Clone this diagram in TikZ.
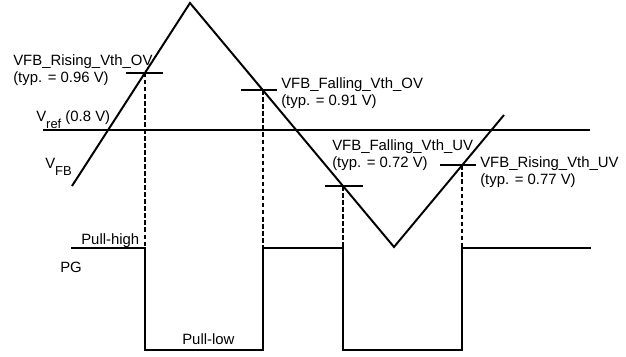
\documentclass[tikz,border=0pt]{standalone}
\usepackage{fontspec}
\setmainfont{Liberation Sans}
\usetikzlibrary{calc}
\newcommand{\lowidx}[1]{\raisebox{-5pt}{\fontsize{9.2}{10}\selectfont #1}}
\tikzset{
	wave/.style={line width=1.4pt},
	guide/.style={line width=1.1pt, dash pattern=on 3.3pt off 1.7pt},
	note/.style={inner sep=0pt, align=left, anchor=north west, font=\fontsize{10.6}{12.5}\selectfont},
}

\begin{document}
\begin{tikzpicture}[x=0.025cm, y=-0.025cm]
		\useasboundingbox (0,0) rectangle (626,356);
		% VFB waveform
		\coordinate (fbstart) at (72,186);
		\coordinate (fbpeak) at (190,3);
		\coordinate (fbvalley) at (394,247);
		\coordinate (fbend) at (504,115);
		\draw[wave] (fbstart) -- (fbpeak) -- (fbvalley) -- (fbend);
		% reference level
		\coordinate (refleft) at (43,130);
		\coordinate (refright) at (590,130);
		\draw[wave] (refleft) -- (refright);
		% threshold crossings
		\coordinate (ovrise) at ($(fbstart)!0.6186!(fbpeak)$);
		\coordinate (ovfall) at ($(fbpeak)!0.3578!(fbvalley)$);
		\coordinate (uvfall) at ($(fbpeak)!0.75!(fbvalley)$);
		\coordinate (uvrise) at ($(fbvalley)!0.618!(fbend)$);
		\draw[wave] ($(ovrise)+(-19,0)$) -- ($(ovrise)+(18,0)$);
		\draw[wave] ($(ovfall)+(-22,0)$) -- ($(ovfall)+(14,0)$);
		\draw[wave] ($(uvfall)+(-18,0)$) -- ($(uvfall)+(20,0)$);
		\draw[wave] ($(uvrise)+(-22,0)$) -- ($(uvrise)+(14,0)$);
		% PG levels
		\coordinate (pghigh) at (71,248);
		\coordinate (pglow) at (71,350);
		\coordinate (pgend) at (591,248);
		\foreach \p in {ovrise,ovfall,uvfall,uvrise}
			\draw[guide] (\p) -- (\p |- pghigh);
		\draw[wave] (pghigh) -- (ovrise |- pghigh) -- (ovrise |- pglow) -- (ovfall |- pglow)
			-- (ovfall |- pghigh) -- (uvfall |- pghigh) -- (uvfall |- pglow) -- (uvrise |- pglow)
			-- (uvrise |- pghigh) -- (pgend);
		% labels
		\node[note] (ovrisetxt) at (13,54) {VFB\_Rising\_Vth\_OV\\(typ. = 0.96 V)};
		\node[note] (ovfalltxt) at (281,77) {VFB\_Falling\_Vth\_OV\\(typ. = 0.91 V)};
		\node[note] (uvfalltxt) at (332,139) {VFB\_Falling\_Vth\_UV\\(typ. = 0.72 V)};
		\node[note] (uvrisetxt) at (480,156) {VFB\_Rising\_Vth\_UV\\(typ. = 0.77 V)};
		\node[note] (reftxt) at (36,110) {V\lowidx{ref} (0.8 V)};
		\node[note] (fbtxt) at (45,158) {V\lowidx{FB}};
		\node[note] (hightxt) at (81,233) {Pull-high};
		\node[note] (pgtxt) at (60,262) {PG};
		\node[note] (lowtxt) at (182,333) {Pull-low};
	\end{tikzpicture}
\end{document}
